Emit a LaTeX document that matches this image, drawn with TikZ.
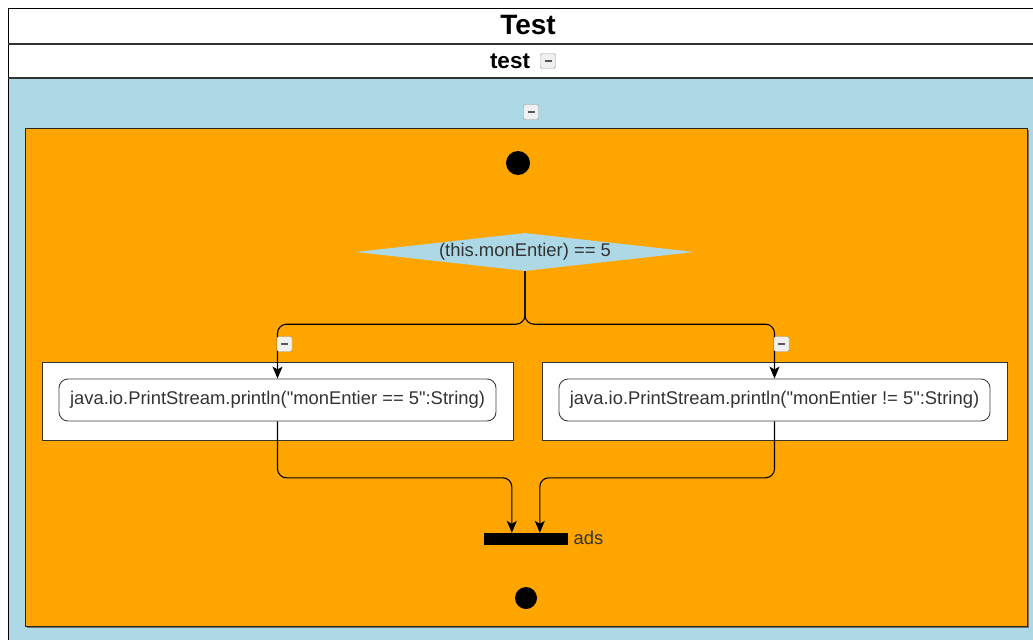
\documentclass[tikz,border=0pt]{standalone}
\usepackage{fontspec}
\setmainfont{Liberation Sans}[Ligatures=TeXOff]
\usetikzlibrary{shapes.geometric,arrows.meta,calc}

\definecolor{swimblue}{HTML}{ADD8E6}
\definecolor{actorange}{HTML}{FFA500}
\definecolor{txtgray}{HTML}{333333}

\tikzset{
    minusbox/.style={draw=gray!75, fill=gray!12, rounded corners=1.5pt, minimum size=15pt, inner sep=0pt,
        path picture={\draw[gray!70!black, line width=1.2pt] ($(path picture bounding box.center)+(-3.5,0)$) -- ++(7,0);}},
    dot/.style={circle, fill=black, inner sep=0pt},
    decision/.style={diamond, fill=swimblue, inner sep=0pt, aspect=8.9, minimum width=339pt, minimum height=38pt, text=txtgray},
    actbox/.style={draw=black!75, fill=white, rounded corners=9pt, minimum height=42pt, text=txtgray, line width=0.9pt},
    groupbox/.style={draw=black!80, fill=white, minimum height=78pt, line width=0.9pt},
    flow/.style={line width=1.1pt, rounded corners=9pt, -{Stealth[length=12pt,width=10pt,inset=3pt]}},
}

\begin{document}
\begin{tikzpicture}[x=1pt,y=-1pt,font=\fontsize{18.4}{21}\selectfont]
    \useasboundingbox (0,0) rectangle (1033,640);

    % frame with the two title rows
    \fill[white] (0,0) rectangle (1033,640);
    \fill[swimblue] (8,78) rectangle (1033,640);
    \draw[line width=1pt] (1033,8) -- (8,8) -- (8,640);
    \draw[line width=1.2pt, black!80] (8,44) -- (1033,44);
    \draw[line width=1.2pt, black!80] (8,78) -- (1033,78);
    \node[font=\bfseries\fontsize{28}{30}\selectfont] (title) at (528,25) {Test};
    \node[font=\bfseries\fontsize{22.5}{25}\selectfont] (lane) at (510,61) {test};
    \node[minusbox] (laneminus) at (548,61) {};
    \node[minusbox] (groupminus) at (531,112) {};

    % orange region
    \fill[black!55] (27,130) rectangle (1029,628);
    \filldraw[fill=actorange, draw=black!85, line width=1pt] (25,128) rectangle (1027,626);

    \node[dot, minimum size=24pt] (start) at (518,163) {};
    \node[decision] (dec) at (525,252) {(this.monEntier) == 5};

    \node[groupbox, minimum width=471pt] (grpyes) at (277.5,401) {};
    \node[groupbox, minimum width=465pt] (grpno) at (774.5,401) {};
    \node[actbox, minimum width=437pt] (actyes) at (277.5,400) {java.io.PrintStream.println("monEntier == 5":String)};
    \node[actbox, minimum width=431pt] (actno) at (774.5,400) {java.io.PrintStream.println("monEntier != 5":String)};

    \node[fill=black, inner sep=0pt, minimum width=84pt, minimum height=12pt] (join) at (526,539) {};
    \node[anchor=west, text=txtgray] (joinlabel) at ($(join.east)+(2,-1)$) {ads};
    \coordinate (joinin1) at ($(join.north west)+(28,0)$);
    \coordinate (joinin2) at ($(join.north west)+(56,0)$);

    \node[dot, minimum size=22pt] (stop) at (526,598) {};

    \draw[flow] (dec.south) -- ($(dec.south)+(0,53)$) -| (actyes.north);
    \draw[flow] (dec.south) -- ($(dec.south)+(0,53)$) -| (actno.north);
    \draw[flow] (actyes.south) |- ($(joinin1)+(0,-55)$) -- (joinin1);
    \draw[flow] (actno.south) |- ($(joinin2)+(0,-55)$) -- (joinin2);

    \node[minusbox] (yesminus) at (284.5,344) {};
    \node[minusbox] (nominus) at (781.5,344) {};
\end{tikzpicture}
\end{document}
